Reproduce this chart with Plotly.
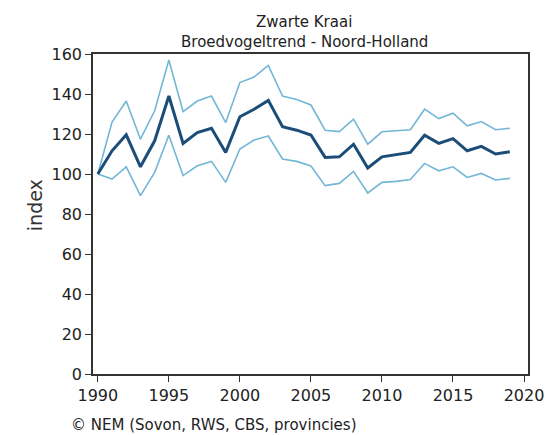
import plotly.graph_objects as go

years = list(range(1990, 2020))
index_mid = [100, 111.6, 119.6, 103.6, 116.6, 139.0, 115.3, 120.7, 122.9, 110.8,
             128.6, 132.4, 136.8, 123.6, 121.9, 119.5, 108.3, 108.6, 114.9, 103.0,
             108.6, 109.6, 110.8, 119.4, 115.3, 117.7, 111.6, 113.8, 110.0, 111.1]
index_upper = [100, 126.0, 136.5, 117.4, 131.6, 157.0, 131.2, 136.5, 139.0, 125.7,
               145.7, 148.5, 154.3, 139.0, 137.3, 134.5, 121.9, 121.2, 127.4, 114.9,
               121.1, 121.6, 122.1, 132.4, 127.7, 130.4, 124.1, 126.2, 122.1, 122.9]
index_lower = [100, 97.5, 103.6, 89.2, 100.8, 119.4, 99.2, 104.1, 106.3, 95.8,
               112.5, 117.0, 119.0, 107.5, 106.3, 104.0, 94.2, 95.3, 101.3, 90.5,
               95.8, 96.3, 97.2, 105.3, 101.6, 103.6, 98.3, 100.3, 97.0, 97.8]

x_ticks = [1990, 1995, 2000, 2005, 2010, 2015, 2020]
y_ticks = [0, 20, 40, 60, 80, 100, 120, 140, 160]

light = "#74b6d6"
dark = "#1b4d78"
font_family = "DejaVu Sans, sans-serif"
txt = "#222222"

fig = go.Figure()
fig.add_trace(go.Scatter(x=years, y=index_upper, mode="lines",
                         line=dict(color=light, width=1.6), hoverinfo="skip"))
fig.add_trace(go.Scatter(x=years, y=index_lower, mode="lines",
                         line=dict(color=light, width=1.6), hoverinfo="skip"))
fig.add_trace(go.Scatter(x=years, y=index_mid, mode="lines",
                         line=dict(color=dark, width=3)))

# page body adds an 8px offset, so the figure is 8px smaller and margins shifted
fig.update_layout(
    width=548, height=427,
    margin=dict(l=85, r=14, t=46, b=61),
    paper_bgcolor="white", plot_bgcolor="white",
    showlegend=False,
    font=dict(family=font_family, color=txt, size=15),
    xaxis=dict(range=[1989.66, 2020.28], tickvals=x_ticks, ticks="outside",
               ticklen=6, tickcolor="#333", showline=True, linecolor="#333",
               linewidth=1.5, mirror=True, showgrid=False, zeroline=False,
               ticklabeloverflow="allow",
               tickfont=dict(size=16, color=txt)),
    yaxis=dict(range=[0, 160], tickvals=y_ticks, ticks="outside",
               ticklen=6, tickcolor="#333", showline=True, linecolor="#333",
               linewidth=1.5, mirror=True, showgrid=False, zeroline=False,
               tickfont=dict(size=16, color=txt)),
    annotations=[
        dict(text="Zwarte Kraai", xref="paper", yref="paper", x=0.486, y=1.101,
             xanchor="center", yanchor="middle", showarrow=False,
             font=dict(size=15, color=txt)),
        dict(text="Broedvogeltrend - Noord-Holland", xref="paper", yref="paper",
             x=0.486, y=1.038, xanchor="center", yanchor="middle", showarrow=False,
             font=dict(size=15, color=txt)),
        dict(text="index", xref="paper", yref="paper", x=-0.133, y=0.528,
             xanchor="center", yanchor="middle", textangle=-90, showarrow=False,
             font=dict(size=19, color="#333")),
        dict(text="© NEM (Sovon, RWS, CBS, provincies)", xref="paper",
             yref="paper", x=-0.056, y=-0.159, xanchor="left",
             yanchor="middle", showarrow=False,
             font=dict(size=15, color=txt)),
    ],
)

fig.write_html("out.html")
